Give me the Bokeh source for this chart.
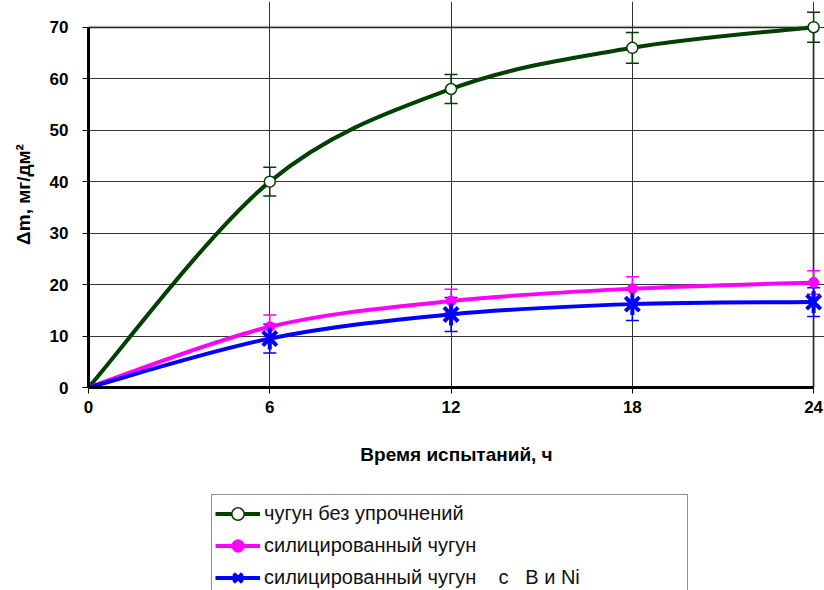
import math
from bokeh.plotting import figure
from bokeh.layouts import column
from bokeh.models import (ColumnDataSource, Whisker, TeeHead, Legend, LegendItem,
                          FixedTicker, Range1d, BoxAnnotation)
from bokeh.embed import file_html
from bokeh.resources import INLINE

# ---- data ----
hours = [0, 6, 12, 18, 24]
cast_iron = [0, 40, 58, 66, 70]
cast_iron_err = [0, 2.8, 2.8, 3.0, 2.9]
siliconized = [0, 11.8, 16.8, 19.2, 20.4]
siliconized_err = [0, 2.3, 2.3, 2.3, 2.3]
siliconized_bni = [0, 9.5, 14.2, 16.2, 16.6]
siliconized_bni_err = [0, 2.8, 3.3, 3.2, 2.8]

x_ticks = [0, 6, 12, 18, 24]
y_ticks = [0, 10, 20, 30, 40, 50, 60, 70]

series_names = ["чугун без упрочнений",
                "силицированный чугун",
                "силицированный чугун    с   В и Ni"]
x_title = "Время испытаний, ч"
y_title = "Δm, мг/дм²"

FONT = "Liberation Sans"


def smooth(xs, ys):
    """Bezier control points for a smoothed line through the data points."""
    n = len(xs)
    d = dict(x0=[], y0=[], x1=[], y1=[], cx0=[], cy0=[], cx1=[], cy1=[])
    for i in range(n - 1):
        ip = i - 1 if i > 0 else i
        inx = i + 2 if i + 2 < n else i + 1
        d["x0"].append(xs[i]); d["y0"].append(ys[i])
        d["x1"].append(xs[i + 1]); d["y1"].append(ys[i + 1])
        d["cx0"].append(xs[i] + (xs[i + 1] - xs[ip]) / 6)
        d["cy0"].append(ys[i] + (ys[i + 1] - ys[ip]) / 6)
        d["cx1"].append(xs[i + 1] - (xs[inx] - xs[i]) / 6)
        d["cy1"].append(ys[i + 1] - (ys[inx] - ys[i]) / 6)
    return ColumnDataSource(d)


p = figure(width=824, height=480, output_backend="svg", toolbar_location=None,
           x_range=Range1d(0, 24.36), y_range=Range1d(0, 75),
           min_border_left=88, min_border_right=0, min_border_top=1,
           min_border_bottom=93, background_fill_color="white",
           border_fill_color="white")

p.outline_line_color = None

for ax in (p.xaxis[0], p.yaxis[0]):
    ax.axis_line_width = 3
    ax.axis_line_color = "black"
    ax.major_tick_line_color = "black"
    ax.major_tick_line_width = 1
    ax.major_tick_out = 6
    ax.major_tick_in = 0
    ax.minor_tick_line_color = None
    ax.major_label_text_font = FONT
    ax.major_label_text_font_style = "bold"
    ax.major_label_text_font_size = "17px"
    ax.major_label_text_color = "black"
    ax.axis_label_text_font = FONT
    ax.axis_label_text_font_style = "bold"
    ax.axis_label_text_font_size = "19px"
    ax.axis_label_text_color = "black"

p.xaxis.ticker = FixedTicker(ticks=x_ticks)
p.yaxis.ticker = FixedTicker(ticks=y_ticks)
p.xaxis.bounds = (x_ticks[0], x_ticks[-1])
p.yaxis.bounds = (y_ticks[0], y_ticks[-1])
p.xaxis.axis_label = x_title
p.yaxis.axis_label = y_title
p.xaxis.major_label_standoff = 7
p.yaxis.major_label_standoff = 14
p.xaxis.axis_label_standoff = 28
p.yaxis.axis_label_standoff = 13

p.xgrid.ticker = FixedTicker(ticks=x_ticks)
p.ygrid.ticker = FixedTicker(ticks=y_ticks)
p.xgrid.bounds = (y_ticks[0], y_ticks[-1])
p.ygrid.bounds = (x_ticks[0], x_ticks[-1])
for g in (p.xgrid[0], p.ygrid[0]):
    g.grid_line_color = "#333333"
    g.grid_line_width = 1

# plot-area border (top / right) at the data limits
p.add_layout(BoxAnnotation(left=x_ticks[0], right=x_ticks[-1], bottom=y_ticks[0],
                           top=y_ticks[-1], fill_alpha=0, line_color="black",
                           line_width=3, level="underlay"))

# legend lives in its own strip below the chart (data there is out of view)
lg = figure(width=824, height=110, output_backend="svg", toolbar_location=None,
            x_range=Range1d(100, 101), y_range=Range1d(100, 101),
            min_border=0, outline_line_color=None, background_fill_color="white",
            border_fill_color="white")
lg.axis.visible = False
lg.grid.visible = False

VERT = math.pi / 2
specs = [
    (cast_iron, cast_iron_err, "#004000",
     [dict(marker="circle", size=11, fill_color="white", line_color="#004000",
           line_width=1.5)]),
    (siliconized, siliconized_err, "#ff00ff",
     [dict(marker="circle", size=10, fill_color="#ff00ff", line_color="#ff00ff",
           line_width=1)]),
    (siliconized_bni, siliconized_bni_err, "#0000ff",
     [dict(marker="x", size=20, line_color="#0000ff", line_width=4),
      dict(marker="dash", size=22, angle=VERT, line_color="#0000ff", line_width=4)]),
]

items = []
for (vals, errs, color, mks), name in zip(specs, series_names):
    src = smooth(hours, vals)
    p.bezier(x0="x0", y0="y0", x1="x1", y1="y1", cx0="cx0", cy0="cy0",
             cx1="cx1", cy1="cy1", source=src, line_color=color, line_width=4)
    pts = ColumnDataSource(dict(
        x=hours[1:], y=vals[1:],
        lo=[v - e for v, e in zip(vals[1:], errs[1:])],
        hi=[v + e for v, e in zip(vals[1:], errs[1:])]))
    p.add_layout(Whisker(base="x", lower="lo", upper="hi", source=pts, dimension="height",
                         line_color=color, line_width=1.5,
                         upper_head=TeeHead(size=13, line_color=color, line_width=1.5),
                         lower_head=TeeHead(size=13, line_color=color, line_width=1.5)))
    for mk in mks:
        p.scatter(x="x", y="y", source=pts, **mk)
    # same series in the legend strip, used only for the legend swatches
    rs = [lg.bezier(x0="x0", y0="y0", x1="x1", y1="y1", cx0="cx0", cy0="cy0",
                    cx1="cx1", cy1="cy1", source=src, line_color=color, line_width=4)]
    for mk in mks:
        rs.append(lg.scatter(x="x", y="y", source=pts, **mk))
    items.append(LegendItem(label=name, renderers=rs))

legend = Legend(items=items, location=(123, -7), orientation="vertical",
                glyph_width=45, glyph_height=31, spacing=1, padding=3, margin=0,
                label_width=420, label_standoff=4,
                label_text_font=FONT, label_text_font_size="20px",
                label_text_color="#111111", border_line_color="#222222",
                border_line_width=1, background_fill_color="white",
                background_fill_alpha=1)
lg.add_layout(legend, "center")

layout = column(p, lg, spacing=0)
open("out.html", "w").write(file_html(layout, INLINE))
